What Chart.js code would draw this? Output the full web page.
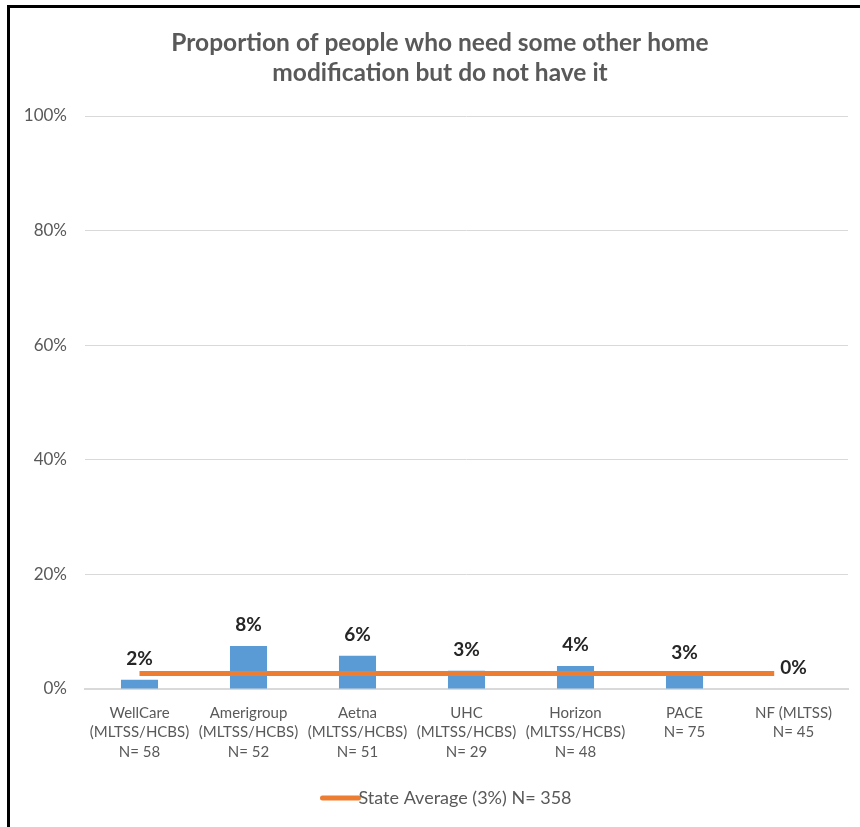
<!DOCTYPE html>
<html>
<head>
<meta charset="utf-8">
<script src="https://cdn.jsdelivr.net/npm/chart.js@4.4.1/dist/chart.umd.min.js"></script>
<style>
  html, body { margin: 0; padding: 0; background: #fff; }
  #frame {
    position: absolute; left: 7px; top: 5px; width: 853px; height: 822px;
    border-top: 3px solid #000; border-left: 3px solid #000; box-sizing: border-box;
  }
  #wrap { position: absolute; left: 0; top: 0; width: 850px; height: 819px; }
</style>
</head>
<body>
<div id="frame"><div id="wrap"><canvas id="chart"></canvas></div></div>
<script>
// chart data
const categories = [
  ["WellCare", "(MLTSS/HCBS)", "N= 58"],
  ["Amerigroup", "(MLTSS/HCBS)", "N= 52"],
  ["Aetna", "(MLTSS/HCBS)", "N= 51"],
  ["UHC", "(MLTSS/HCBS)", "N= 29"],
  ["Horizon", "(MLTSS/HCBS)", "N= 48"],
  ["PACE", "N= 75"],
  ["NF (MLTSS)", "N= 45"]
];
const planValues = [1.6, 7.5, 5.8, 3.2, 4.0, 2.6, 0];
const stateAverage = [2.7, 2.7, 2.7, 2.7, 2.7, 2.7, 2.7];
const stateLabel = "State Average (3%) N= 358";
const yTicks = [0, 20, 40, 60, 80, 100];
const titleLines = ["Proportion of people who need some other home", "modification but do not have it"];

const FONT = "Lato, 'Liberation Sans', sans-serif";
const GRAY = "#595959";

// title + legend + bar value labels
const extras = {
  id: "extras",
  afterDatasetsDraw(chart) {
    const ctx = chart.ctx;
    const bars = chart.getDatasetMeta(1).data;
    ctx.save();
    ctx.font = "bold 19px " + FONT;
    ctx.textAlign = "center";
    ctx.textBaseline = "middle";
    bars.forEach((bar, i) => {
      const txt = Math.round(planValues[i]) + "%";
      const y = bar.y - 21;
      if (planValues[i] === 0) {
        const w = ctx.measureText(txt).width + 12;
        ctx.fillStyle = "#fff";
        ctx.fillRect(bar.x - w / 2, y - 10, w, 20);
      }
      ctx.fillStyle = "#262626";
      ctx.fillText(txt, bar.x, y);
    });
    ctx.restore();
  },
  afterDraw(chart) {
    const ctx = chart.ctx;
    ctx.save();
    ctx.fillStyle = GRAY;
    ctx.textAlign = "center";
    ctx.textBaseline = "middle";
    ctx.font = "bold 24.5px " + FONT;
    titleLines.forEach((t, i) => ctx.fillText(t, 430, 35 + i * 30));

    // legend
    ctx.font = "18px " + FONT;
    const tw = ctx.measureText(stateLabel).width;
    const lineW = 36;
    const x0 = 437 - (lineW + tw) / 2;
    ctx.strokeStyle = "#ED7D31";
    ctx.lineWidth = 5;
    ctx.lineCap = "round";
    ctx.beginPath();
    ctx.moveTo(x0, 790);
    ctx.lineTo(x0 + lineW, 790);
    ctx.stroke();
    ctx.textAlign = "left";
    ctx.fillText(stateLabel, x0 + lineW, 790);
    ctx.restore();
  }
};

new Chart(document.getElementById("chart"), {
  data: {
    labels: categories,
    datasets: [
      {
        type: "line",
        label: stateLabel,
        data: stateAverage,
        borderColor: "#ED7D31",
        borderWidth: 5,
        pointRadius: 0,
        order: 0
      },
      {
        type: "bar",
        label: "Plan",
        data: planValues,
        backgroundColor: "#5B9BD5",
        barPercentage: 0.34,
        categoryPercentage: 1,
        order: 1
      }
    ]
  },
  options: {
    responsive: true,
    maintainAspectRatio: false,
    animation: false,
    layout: { padding: { top: 108, right: 12, bottom: 58, left: 0 } },
    plugins: {
      legend: { display: false },
      title: { display: false },
      tooltip: { enabled: false }
    },
    scales: {
      x: {
        grid: { display: false },
        border: { color: "#d9d9d9", width: 2 },
        ticks: {
          color: GRAY,
          font: { family: FONT, size: 15, lineHeight: 1.3 },
          padding: 6,
          maxRotation: 0,
          autoSkip: false
        },
        afterFit(s) { s.height = 80; }
      },
      y: {
        min: 0,
        max: 100,
        afterBuildTicks(s) { s.ticks = yTicks.map(v => ({ value: v })); },
        grid: { color: "#d9d9d9", drawTicks: false },
        border: { display: false },
        ticks: {
          color: GRAY,
          font: { family: FONT, size: 17 },
          padding: 18,
          callback: v => v + "%"
        },
        afterFit(s) { s.width = 75; }
      }
    }
  },
  plugins: [extras]
});
</script>
</body>
</html>
